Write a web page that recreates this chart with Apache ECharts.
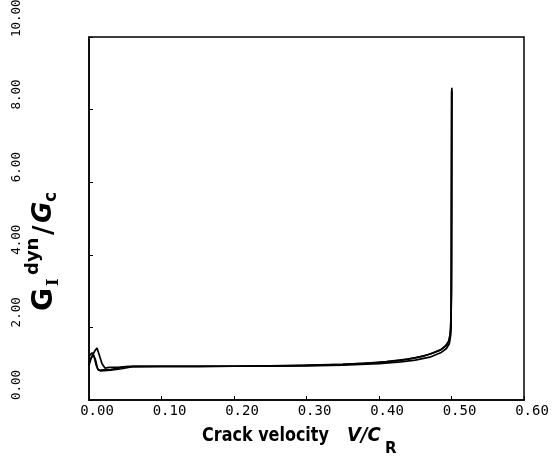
<!DOCTYPE html>
<html>
<head>
<meta charset="utf-8">
<script src="https://cdn.jsdelivr.net/npm/echarts@6/dist/echarts.min.js"></script>
<style>
  html, body { margin: 0; padding: 0; background: #fff; }
  #chart { width: 558px; height: 463px; }
</style>
</head>
<body>
<div id="chart"></div>
<script>
// Normalised dynamic energy release rate vs. crack velocity, three runs
const xTicks = [0, 0.1, 0.2, 0.3, 0.4, 0.5, 0.6];
const yTicks = [0, 2, 4, 6, 8, 10];

const runA = [
  [0, 1.05], [0.004, 1.2], [0.008, 1.35], [0.011, 1.43], [0.014, 1.25], [0.018, 1.0],
  [0.022, 0.88], [0.028, 0.9], [0.04, 0.9], [0.06, 0.93], [0.08, 0.93], [0.1, 0.93],
  [0.15, 0.93], [0.2, 0.93], [0.25, 0.94], [0.3, 0.96], [0.35, 0.98], [0.38, 1.01],
  [0.41, 1.06], [0.44, 1.13], [0.46, 1.2], [0.475, 1.3], [0.485, 1.38], [0.492, 1.5],
  [0.496, 1.62], [0.498, 1.8], [0.4995, 2.3], [0.5, 4.0], [0.5005, 8.6]
];
const runB = [
  [0, 1.2], [0.004, 1.3], [0.007, 1.2], [0.01, 0.95], [0.013, 0.82], [0.02, 0.83],
  [0.03, 0.84], [0.04, 0.88], [0.05, 0.92], [0.1, 0.92], [0.15, 0.92], [0.2, 0.93],
  [0.25, 0.93], [0.3, 0.94], [0.35, 0.96], [0.4, 1.0], [0.43, 1.05], [0.45, 1.1],
  [0.47, 1.18], [0.485, 1.3], [0.493, 1.42], [0.497, 1.55], [0.499, 1.8], [0.5, 3.0],
  [0.5002, 8.5]
];
const runC = [
  [0, 0.95], [0.003, 1.15], [0.006, 1.25], [0.009, 1.1], [0.012, 0.85], [0.016, 0.8],
  [0.03, 0.82], [0.045, 0.86], [0.06, 0.92], [0.1, 0.93], [0.15, 0.93], [0.2, 0.93],
  [0.25, 0.94], [0.3, 0.95], [0.35, 0.98], [0.4, 1.03], [0.43, 1.09], [0.45, 1.16],
  [0.47, 1.26], [0.485, 1.38], [0.493, 1.5], [0.497, 1.65], [0.4995, 2.0], [0.5003, 8.55]
];

const labelFont = 'DejaVu Sans Mono';
const titleFont = 'DejaVu Sans';

const chart = echarts.init(document.getElementById('chart'), null, { renderer: 'canvas' });

const lineSeries = (data) => ({
  type: 'line',
  data: data,
  showSymbol: false,
  symbol: 'none',
  smooth: false,
  lineStyle: { color: '#000', width: 1.7 },
  animation: false
});

// small helper for the title text pieces
const piece = (text, x, y, size, extra) => ({
  type: 'text', x: x, y: y,
  style: Object.assign({
    text: text, fontFamily: titleFont, fontWeight: 'bold', fontSize: size,
    fill: '#000', verticalAlign: 'middle', align: 'left'
  }, extra || {})
});

chart.setOption({
  backgroundColor: '#fff',
  animation: false,
  grid: {
    left: 89, right: 34, top: 37, bottom: 63,
    containLabel: false, outerBoundsMode: 'none',
    show: true, borderColor: '#000', borderWidth: 1.5
  },
  xAxis: {
    type: 'value',
    min: xTicks[0], max: xTicks[xTicks.length - 1], interval: 0.1,
    axisLine: { show: true, lineStyle: { color: '#000', width: 1.5 } },
    axisTick: { show: true, inside: true, length: 4, lineStyle: { color: '#000' } },
    splitLine: { show: false },
    axisLabel: {
      color: '#000', fontFamily: labelFont, fontSize: 14, margin: 4,
      padding: [0, 0, 0, 16],
      formatter: (v) => v.toFixed(2)
    }
  },
  yAxis: {
    type: 'value',
    min: yTicks[0], max: yTicks[yTicks.length - 1], interval: 2,
    axisLine: { show: true, lineStyle: { color: '#000', width: 1.5 } },
    axisTick: { show: true, inside: true, length: 4, lineStyle: { color: '#000' } },
    splitLine: { show: false },
    axisLabel: {
      color: '#000', fontFamily: labelFont, fontSize: 12.5, margin: 72,
      rotate: 90, align: 'left', verticalAlign: 'middle',
      formatter: (v) => v.toFixed(2)
    }
  },
  graphic: [
    {
      // x-axis title: Crack velocity V/C_R
      type: 'group',
      x: 0, y: 0,
      children: [
        Object.assign(piece('Crack velocity', 202, 436, 20), { scaleX: 0.8 }),
        Object.assign(piece('V/C', 347, 436, 20, { fontStyle: 'italic' }), { scaleX: 0.9 }),
        piece('R', 385, 449, 15)
      ]
    },
    {
      // y-axis title: G_I^dyn / G_c, reading bottom to top
      type: 'group',
      x: 45, y: 311,
      rotation: Math.PI / 2,
      children: [
        piece('G', 0, 0, 28),
        piece('I', 25, 9, 16, { fontFamily: 'DejaVu Serif' }),
        piece('dyn', 36, -12, 18),
        piece('/', 76, 0, 26),
        piece('G', 88, -1, 26, { fontStyle: 'italic' }),
        piece('c', 109, 7, 17)
      ]
    }
  ],
  series: [lineSeries(runA), lineSeries(runB), lineSeries(runC)]
});
</script>
</body>
</html>
